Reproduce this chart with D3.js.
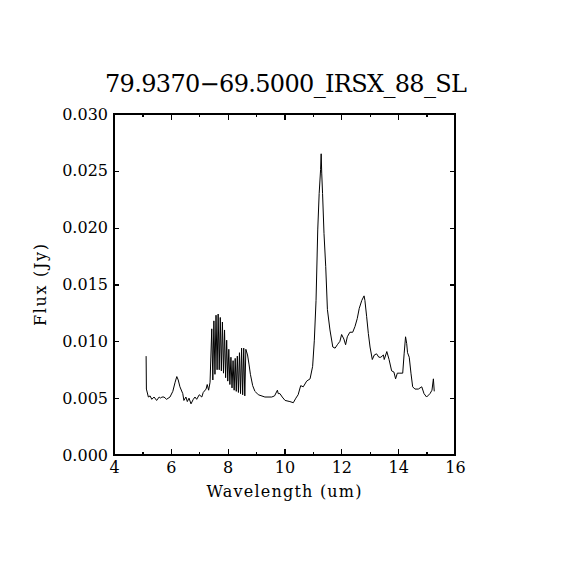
<!DOCTYPE html>
<html>
<head>
<meta charset="utf-8">
<script src="https://cdn.jsdelivr.net/npm/d3@7"></script>
<style>
  body { margin: 0; background: #fff; }
  svg text { font-family: "DejaVu Serif", serif; fill: #000; }
</style>
</head>
<body>
<svg id="chart" width="570" height="570"></svg>
<script>
// spectrum
var wavelength = [
  5.13, 5.14, 5.21, 5.27, 5.33, 5.41, 5.50, 5.59, 5.64, 5.68, 5.76, 5.85, 5.97,
  6.07, 6.15, 6.21, 6.26, 6.32, 6.42, 6.46, 6.53, 6.58, 6.64, 6.71, 6.79, 6.85, 6.91,
  7.00, 7.09, 7.14, 7.24, 7.28, 7.33, 7.38,
  // 7.7 / 8.6 complex: orders interleave, hence the hatching
  7.44, 7.478, 7.515, 7.553, 7.59, 7.628, 7.665, 7.703, 7.74, 7.778, 7.815, 7.853,
  7.89, 7.928, 7.965, 8.003, 8.04, 8.078, 8.115, 8.153, 8.19, 8.228, 8.265, 8.303,
  8.34, 8.378, 8.415, 8.453, 8.49, 8.528, 8.565, 8.603, 8.64,
  8.70, 8.75, 8.80, 8.88, 8.96,
  9.08, 9.31, 9.55, 9.65, 9.75, 9.78, 9.84, 9.92, 10.02, 10.19, 10.31, 10.40, 10.48,
  10.57, 10.66, 10.78, 10.90, 10.99, 11.05, 11.11, 11.17, 11.22, 11.27, 11.29, 11.31,
  11.34, 11.39, 11.45, 11.51, 11.60, 11.70, 11.78, 11.86, 11.95, 12.01, 12.09, 12.15,
  12.21, 12.30, 12.40, 12.48, 12.56, 12.63, 12.72, 12.80, 12.83, 12.89, 12.95, 13.01,
  13.09, 13.16, 13.24, 13.32, 13.39, 13.48, 13.51, 13.60, 13.68, 13.77, 13.85, 13.91,
  13.97, 14.06, 14.16, 14.21, 14.26, 14.30, 14.33, 14.39, 14.45, 14.51, 14.59, 14.71,
  14.83, 14.91, 15.00, 15.12, 15.19, 15.24, 15.27
];
var flux = [
  0.0087, 0.0058, 0.0051, 0.0052, 0.0049, 0.0051, 0.0048, 0.0051, 0.0050, 0.0051, 0.0051, 0.0049, 0.0051,
  0.0056, 0.0064, 0.0069, 0.0066, 0.0060, 0.0054, 0.0048, 0.0051, 0.0047, 0.0050, 0.0045, 0.0049, 0.0051, 0.0049,
  0.0053, 0.0051, 0.0055, 0.0058, 0.0062, 0.0057, 0.0064,
  0.0111, 0.0066, 0.0118, 0.0071, 0.0123, 0.0075, 0.0124, 0.0075, 0.0121, 0.0074, 0.0117, 0.0072,
  0.0110, 0.0068, 0.0101, 0.0065, 0.0093, 0.0062, 0.0086, 0.0059, 0.0083, 0.0057, 0.0085, 0.0056,
  0.0087, 0.0055, 0.0090, 0.0054, 0.0094, 0.0053, 0.0094, 0.0052, 0.0093,
  0.0088, 0.0080, 0.0071, 0.0061, 0.0056,
  0.0053, 0.0051, 0.0051, 0.0052, 0.0057, 0.0054, 0.0054, 0.0051, 0.0048, 0.0047, 0.0046, 0.0050, 0.0053,
  0.0061, 0.0060, 0.0065, 0.0067, 0.0078, 0.0101, 0.0136, 0.0198, 0.0230, 0.0251, 0.0265, 0.0248,
  0.0230, 0.0195, 0.0166, 0.0128, 0.0110, 0.0095, 0.0094, 0.0097, 0.0100, 0.0106, 0.0102, 0.0097,
  0.0104, 0.0108, 0.0108, 0.0113, 0.0120, 0.0129, 0.0136, 0.0140, 0.0136, 0.0122, 0.0107, 0.0095,
  0.0084, 0.0088, 0.0089, 0.0086, 0.0086, 0.0088, 0.0084, 0.0091, 0.0084, 0.0074, 0.0073, 0.0067,
  0.0072, 0.0072, 0.0072, 0.0089, 0.0104, 0.0098, 0.0090, 0.0086, 0.0072, 0.0060, 0.0058, 0.0058,
  0.0060, 0.0054, 0.0051, 0.0054, 0.0057, 0.0067, 0.0056
];

var xMajor = [4, 6, 8, 10, 12, 14, 16];
var xMinor = [5, 7, 9, 11, 13, 15];
var yMajor = [0, 0.005, 0.010, 0.015, 0.020, 0.025, 0.030];

var title = "79.9370\u221269.5000_IRSX_88_SL";
var xTitle = "Wavelength (um)";
var yTitle = "Flux (Jy)";

var svg = d3.select("#chart");
var box = { left: 114, right: 455, top: 114, bottom: 455 };

var x = d3.scaleLinear().domain([4, 16]).range([box.left, box.right]);
var y = d3.scaleLinear().domain([0, 0.030]).range([box.bottom, box.top]);

// frame
svg.append("rect")
  .attr("x", box.left).attr("y", box.top)
  .attr("width", box.right - box.left).attr("height", box.bottom - box.top)
  .attr("fill", "none").attr("stroke", "#000").attr("stroke-width", 1.2)
  .attr("shape-rendering", "crispEdges");

function drawAxis(gen, tx, ty) {
  var g = svg.append("g").attr("transform", "translate(" + tx + "," + ty + ")").call(gen);
  g.select(".domain").remove();
  g.selectAll("line").attr("stroke", "#000").attr("stroke-width", 1.2).attr("shape-rendering", "crispEdges");
  g.selectAll("text").attr("font-family", "DejaVu Serif").attr("fill", "#000");
  return g;
}

// x ticks, inward
drawAxis(d3.axisBottom(x).tickValues(xMajor).tickSize(-6).tickPadding(7).tickFormat(d3.format("d")), 0, box.bottom)
  .selectAll("text").attr("font-size", 16);
drawAxis(d3.axisBottom(x).tickValues(xMinor).tickSize(-3).tickFormat(""), 0, box.bottom);
drawAxis(d3.axisTop(x).tickValues(xMajor).tickSize(-6).tickFormat(""), 0, box.top);
drawAxis(d3.axisTop(x).tickValues(xMinor).tickSize(-3).tickFormat(""), 0, box.top);

// y ticks
drawAxis(d3.axisLeft(y).tickValues(yMajor).tickSize(-5).tickPadding(6).tickFormat(d3.format(".3f")), box.left, 0)
  .selectAll("text").attr("font-size", 16);
drawAxis(d3.axisRight(y).tickValues(yMajor).tickSize(-5).tickFormat(""), box.right, 0);

// spectrum
var pts = wavelength.map(function(w, i) { return [w, flux[i]]; });
var line = d3.line()
  .x(function(d) { return x(d[0]); })
  .y(function(d) { return y(d[1]); });

svg.append("path")
  .datum(pts)
  .attr("d", line)
  .attr("fill", "none")
  .attr("stroke", "#000")
  .attr("stroke-width", 1);

// titles
svg.append("text")
  .attr("x", 286).attr("y", 92)
  .attr("text-anchor", "middle")
  .attr("font-size", 24)
  .attr("textLength", 362)
  .text(title);

svg.append("text")
  .attr("x", 284).attr("y", 497)
  .attr("text-anchor", "middle")
  .attr("font-size", 16)
  .attr("textLength", 155)
  .text(xTitle);

svg.append("text")
  .attr("transform", "translate(46,285) rotate(-90)")
  .attr("text-anchor", "middle")
  .attr("font-size", 16)
  .attr("textLength", 82)
  .text(yTitle);
</script>
</body>
</html>
